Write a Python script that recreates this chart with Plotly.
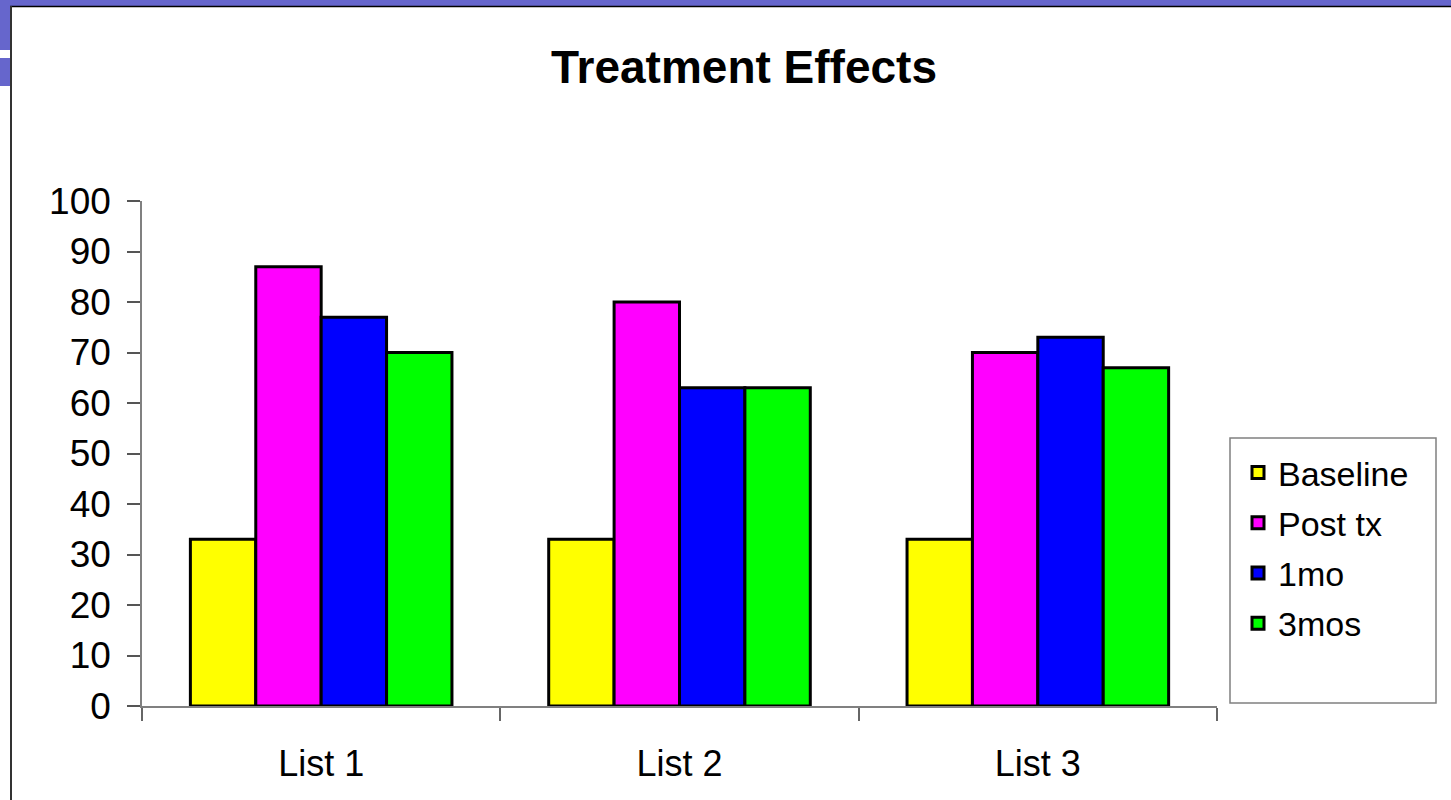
import plotly.graph_objects as go

# Scores per word list at each assessment point
lists = ["List 1", "List 2", "List 3"]
baseline = [33, 33, 33]
post_tx = [87, 80, 70]
one_mo = [77, 63, 73]
three_mos = [70, 63, 67]

series_names = ["Baseline", "Post tx", "1mo", "3mos"]
series_values = [baseline, post_tx, one_mo, three_mos]
series_colors = ["#FFFF00", "#FF00FF", "#0000FF", "#00FF00"]

y_ticks = list(range(0, 101, 10))

W, H = 1451, 800
M_L, M_R, M_T, M_B = 142, 234, 201, 94
PW, PH = W - M_L - M_R, H - M_T - M_B


def px_x(x):
    return (x - M_L) / PW


def px_y(y):
    return (H - M_B - y) / PH


fig = go.Figure()
for name, vals, col in zip(series_names, series_values, series_colors):
    fig.add_trace(go.Bar(
        x=lists, y=vals, name=name, legendgroup=name,
        marker=dict(color=col, line=dict(color="#000000", width=3)),
    ))

purple = "#6666CC"


def paper_rect(x0, y0, x1, y1, **kw):
    return dict(type="rect", xref="paper", yref="paper",
                x0=px_x(x0), x1=px_x(x1), y0=px_y(y0), y1=px_y(y1), **kw)


def paper_line(x0, y0, x1, y1, **kw):
    return dict(type="line", xref="paper", yref="paper",
                x0=px_x(x0), x1=px_x(x1), y0=px_y(y0), y1=px_y(y1), **kw)


shapes = [
    # slide banner along the top and tabs on the left edge
    paper_rect(0, 0, W, 6, fillcolor=purple, line_width=0),
    paper_line(10, 6.5, W, 6.5, line=dict(color="#000000", width=1.5)),
    paper_rect(0, 0, 10, 50, fillcolor=purple, line_width=0),
    paper_rect(0, 58, 10, 86, fillcolor=purple, line_width=0),
    paper_line(11, 6, 11, H, line=dict(color="#333333", width=2)),
    # legend frame
    paper_rect(1230, 438, 1436, 703, line=dict(color="#808080", width=1.5),
               fillcolor="rgba(0,0,0,0)"),
]

fig.update_layout(
    width=W, height=H,
    margin=dict(l=M_L, r=M_R, t=M_T, b=M_B, autoexpand=False),
    paper_bgcolor="#FFFFFF", plot_bgcolor="#FFFFFF",
    font=dict(family="Arial, Liberation Sans, sans-serif", color="#000000"),
    title=dict(text="<b>Treatment Effects</b>", x=744 / W, xanchor="center",
               y=1 - 67 / H, yanchor="middle",
               font=dict(size=46, color="#000000")),
    barmode="group", bargap=0.27, bargroupgap=0,
    showlegend=True,
    legend=dict(x=px_x(1238), xanchor="left", y=px_y(444), yanchor="top",
                bgcolor="rgba(0,0,0,0)", borderwidth=0,
                font=dict(size=34), tracegroupgap=3, traceorder="grouped"),
    shapes=shapes,
)

fig.update_xaxes(
    type="category", tickson="boundaries", ticks="outside", ticklen=13,
    tickcolor="#666666", tickwidth=1.5,
    showline=True, linecolor="#808080", linewidth=1.5,
    showgrid=False, tickfont=dict(size=36), ticklabelstandoff=25,
)
fig.update_yaxes(
    range=[0, 100], tickvals=y_ticks, ticks="outside", ticklen=13,
    tickcolor="#555555", tickwidth=1.5,
    showline=True, linecolor="#808080", linewidth=1.5,
    showgrid=False, zeroline=False, tickfont=dict(size=37),
    ticklabelstandoff=9,
)

fig.write_html("out.html")
